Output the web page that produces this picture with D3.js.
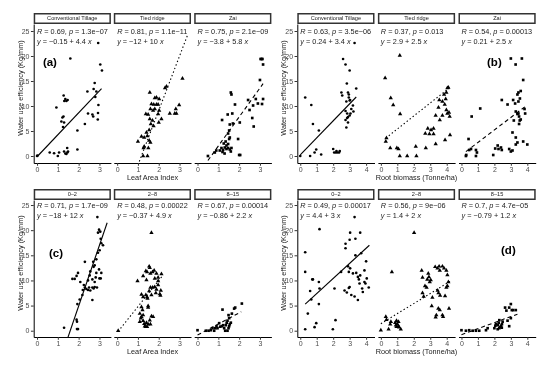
<!DOCTYPE html>
<html>
<head>
<meta charset="utf-8">
<script src="https://cdn.jsdelivr.net/npm/d3@7"></script>
<style>
  body { margin: 0; background: #fff; }
  svg { will-change: transform; }
  text { font-family: "Liberation Sans", Arial, sans-serif; }
</style>
</head>
<body>
<svg id="chart" width="550" height="365"></svg>
<script>
// strip labels
const tillageLabels = ["Conventional Tillage", "Tied ridge", "Zai"];
const depthLabels = ["0\u20132", "2\u20138", "8\u201315"];

const laiTicks = [0, 1, 2, 3];
const rootTicks = [0, 1, 2, 3, 4];
const wueTicks = [0, 5, 10, 15, 20, 25];

// (a) leaf area index vs WUE, by tillage
const laiTillage = [[0,0],[0.02,0.1],[0.61,0.7],[0.82,0.55],[1.0,0],[1.06,0.7],[1.3,0.9],[1.36,0.5],[1.41,0.4],[1.46,0.7],[1.49,0.9],[1.45,1.6],[1.94,1.3],[0.93,9.7],[1.28,12.1],[1.36,11.4],[1.31,11.0],[1.41,11.0],[1.47,11.2],[1.22,7.7],[1.17,6.9],[1.3,6.7],[1.27,7.9],[1.25,5.8],[1.6,19.5],[1.94,5.1],[2.3,6.4],[2.45,8.5],[2.66,8.3],[2.7,7.9],[2.42,12.9],[2.72,13.4],[2.77,14.6],[2.8,11.8],[2.95,10.2],[2.93,8.6],[2.92,7.3],[2.94,22.6],[3.04,18.3],[3.12,17.1],[2.85,12.9]];
const laiTiedRidge = [[1.25,0],[1.46,0],[1.0,2.9],[1.27,1.6],[1.3,1.9],[1.5,1.6],[1.17,3.9],[1.3,3.7],[1.54,3.1],[1.6,2.7],[1.41,4.7],[1.54,5.2],[1.62,6.4],[1.57,7.4],[1.7,7.1],[1.38,8.4],[1.49,8.3],[1.6,9.4],[1.73,9.1],[1.81,9.4],[1.97,8.4],[2.02,9.1],[1.57,12.7],[1.65,10.4],[1.76,10.3],[1.89,10.3],[1.97,10.3],[1.81,11.6],[1.89,11.7],[2.02,11.4],[2.13,7.4],[2.0,6.7],[2.3,13.6],[2.37,13.9],[2.53,8.5],[2.77,8.5],[2.85,8.5],[2.82,9.4],[2.98,10.2],[3.14,15.5],[1.45,4.0],[1.75,6.0]];
const laiZai = [[0.5,0],[0.83,0.7],[0.9,1.1],[1.07,1.1],[1.15,1.6],[1.23,1.2],[1.31,1.7],[1.39,1.4],[1.47,1.6],[1.55,1.3],[1.63,1.6],[1.26,2.5],[1.35,2.9],[1.39,2.1],[1.47,2.4],[1.52,3.4],[1.55,3.7],[1.47,4.5],[1.52,5.1],[1.18,7.2],[1.55,6.3],[1.7,6.5],[1.67,8.5],[1.45,8.3],[1.6,12.7],[1.63,12.3],[1.8,10.3],[1.95,3.4],[2.0,0.2],[2.05,0.2],[2.03,6.7],[2.43,11.2],[2.67,10.1],[2.5,9.2],[2.63,7.6],[2.7,5.9],[2.8,11.4],[2.9,10.5],[3.15,11.4],[3.1,10.4],[3.0,15.2],[3.03,19.4],[3.08,19.4],[3.12,19.4],[3.15,18.3],[1.2,0.8],[1.3,0.5],[1.6,0.9]];

// (b) root biomass vs WUE, by tillage
const rootTillage = [[0,0],[0.3,11.7],[0.6,0],[0.67,10.2],[0.77,6.4],[0.87,0.7],[0.97,1.3],[1.13,5.1],[1.27,0.3],[2.0,1.4],[2.06,0.7],[2.16,0.7],[2.2,1.0],[2.26,0.7],[2.36,0.7],[2.4,1.0],[2.5,12.7],[2.55,12.1],[2.6,19.4],[2.75,18.3],[3.0,17.1],[2.83,14.5],[2.9,12.7],[2.95,12.3],[3.03,11.2],[2.8,10.9],[2.75,9.0],[2.85,8.5],[2.9,7.8],[3.0,8.1],[3.05,8.5],[3.1,9.4],[2.75,7.2],[2.9,6.7],[2.8,5.7],[3.0,11.1],[3.3,22.6],[3.4,13.5],[3.2,10.1],[3.23,8.9],[2.95,11.7],[2.85,7.6]];
const rootTiedRidge = [[0.26,15.6],[0.34,3.6],[0.3,2.9],[0.57,1.6],[0.6,11.6],[0.75,10.2],[0.97,1.6],[1.07,1.4],[1.15,20.1],[1.17,8.4],[1.15,0],[1.6,0],[2.16,0],[2.12,1.9],[2.73,1.6],[2.7,4.5],[2.95,4.4],[2.85,5.5],[3.05,5.2],[3.2,5.5],[3.2,4.4],[3.33,2.4],[3.9,3.2],[4.2,4.2],[3.33,8.1],[3.58,7.2],[3.74,8.1],[3.5,9.7],[3.55,11.2],[3.74,10.9],[3.94,11.4],[3.84,12.3],[3.98,12.7],[4.04,13.6],[4.1,13.7],[3.88,10.3],[3.98,9.2],[4.04,8.5],[4.14,8.7],[4.18,7.9]];
const rootZai = [[0.27,0],[0.29,0.2],[0.47,1.2],[0.58,1.4],[0.43,3.4],[0.62,7.9],[0.88,1.2],[0.94,0.7],[0.88,0],[1.14,9.5],[1.93,0.2],[2.05,1.5],[2.2,2.1],[2.4,1.7],[2.45,1.2],[2.25,1.4],[2.45,11.2],[2.8,10.3],[2.9,1.4],[3.0,0.9],[3.1,1.1],[3.0,19.5],[3.29,18.3],[3.1,4.7],[3.14,11.2],[3.26,10.5],[3.4,12.3],[3.46,12.7],[3.46,10.9],[3.3,8.9],[3.4,8.4],[3.5,7.9],[3.54,7.1],[3.5,6.4],[3.46,8.5],[3.6,7.3],[3.18,7.1],[3.3,2.3],[3.4,2.7],[3.3,3.7],[3.67,19.5],[3.75,15.2],[3.83,9.4],[3.87,8.5],[3.75,2.9],[4.0,2.3],[3.6,13.0],[3.55,11.5]];

// (c) leaf area index vs WUE, by depth
const laiDepth02 = [[1.3,0.6],[1.92,0.33],[1.97,0.33],[1.9,2.2],[1.92,1.8],[1.94,5.3],[2.05,6.2],[2.18,7.1],[2.2,8.1],[2.3,8.6],[2.25,9.1],[1.7,10.3],[1.81,10.3],[1.9,10.9],[1.97,11.5],[2.08,9.7],[2.3,13.7],[2.37,8.3],[2.45,8.1],[2.5,8.6],[2.56,8.0],[2.66,8.6],[2.72,8.4],[2.77,8.7],[2.88,8.6],[2.66,6.1],[2.45,10.0],[2.53,11.0],[2.56,11.8],[2.66,10.2],[2.77,9.7],[2.82,10.6],[2.85,11.5],[2.72,12.7],[2.77,13.0],[2.7,13.7],[2.85,14.2],[2.98,12.2],[3.0,10.4],[3.06,10.4],[3.09,11.5],[2.93,15.5],[3.01,16.0],[3.09,17.4],[3.06,18.3],[2.93,19.5],[2.98,20.1],[3.04,19.7],[2.9,22.6],[3.17,17.0]];
const laiDepth28 = [[0.05,0],[0.98,9.9],[1.09,3.4],[1.14,2.5],[1.09,1.8],[1.17,4.7],[1.22,4.1],[1.25,3.1],[1.17,2.8],[1.25,2.0],[1.3,1.4],[1.33,0.9],[1.38,0.8],[1.41,1.6],[1.44,0.8],[1.49,1.3],[1.57,2.1],[1.6,1.3],[1.65,2.9],[1.73,2.8],[1.46,6.4],[1.49,4.6],[1.49,4.9],[1.17,7.2],[1.25,6.7],[1.38,7.1],[1.44,6.7],[1.54,7.9],[1.65,7.1],[1.6,8.6],[1.7,8.6],[1.81,8.7],[1.89,8.2],[1.97,9.1],[1.86,7.5],[2.05,7.3],[2.08,7.0],[2.1,8.0],[1.38,11.9],[1.44,11.7],[1.54,12.8],[1.57,12.5],[1.6,11.4],[1.7,11.7],[1.78,12.0],[1.89,11.4],[1.97,10.6],[2.13,11.3],[1.65,19.5],[1.25,10.9],[1.41,10.1],[1.81,10.4],[1.97,9.9]];
const laiDepth815 = [[0,0.1],[0.4,0],[0.53,0],[0.64,0.1],[0.72,0.5],[0.8,0],[0.85,0.5],[0.91,0.9],[0.96,0.5],[1.04,1.5],[1.09,0.8],[1.17,0.9],[1.23,1.1],[1.28,0.5],[1.33,0],[1.36,1.1],[1.44,0],[1.49,0.5],[1.52,0.9],[1.55,1.3],[1.6,1.6],[1.44,2.0],[1.52,2.5],[1.49,3.1],[1.2,4.2],[1.76,4.4],[1.81,4.6],[2.13,5.4],[1.65,3.4],[1.4,1.6]];

// (d) root biomass vs WUE, by depth
const rootDepth02 = [[0.3,15.6],[0.3,11.7],[0.3,0.3],[0.46,3.4],[0.6,7.9],[0.73,10.2],[0.77,10.2],[0.67,6.2],[0.87,0.7],[0.97,1.5],[1.13,9.7],[1.17,8.4],[1.13,5.3],[1.17,20.2],[1.98,0.3],[2.14,2.1],[2.08,8.4],[2.48,11.7],[2.69,8.0],[2.83,7.6],[2.95,8.5],[3.0,8.7],[3.1,7.1],[2.75,16.4],[3.0,18.1],[3.03,19.5],[2.75,17.3],[2.9,12.8],[2.95,11.7],[3.03,12.4],[3.3,22.6],[3.35,18.3],[3.35,15.0],[3.4,11.5],[3.5,10.7],[3.56,10.2],[3.6,9.4],[3.64,11.0],[3.64,19.5],[3.3,6.8],[3.5,6.1],[3.7,15.4],[3.76,8.4],[3.8,7.7],[3.9,9.7],[3.9,12.0],[3.96,9.4],[4.04,10.4],[4.16,8.6],[3.2,11.4],[4.0,13.8]];
const rootDepth28 = [[0,0.1],[0.3,2.8],[0.34,2.2],[0.57,1.3],[0.61,1.8],[0.47,0.3],[0.67,11.7],[0.87,1.6],[0.91,1.1],[0.95,0.8],[1.01,1.3],[1.07,1.8],[1.07,0.9],[1.11,0.7],[1.21,0.3],[0.95,2.0],[2.02,19.5],[2.48,12.0],[2.53,10.6],[2.53,7.5],[2.6,6.8],[2.68,8.9],[2.78,8.6],[2.88,11.4],[2.92,10.7],[2.97,9.7],[2.82,10.2],[3.03,10.1],[3.13,6.6],[3.09,4.9],[3.3,12.7],[3.44,12.4],[3.54,12.8],[3.58,12.0],[3.74,12.8],[3.84,12.4],[3.98,12.0],[4.04,11.1],[3.33,2.7],[3.37,3.1],[3.49,4.4],[3.58,4.1],[3.74,3.1],[3.78,2.8],[3.9,6.9],[3.98,8.6],[4.04,8.9],[4.1,9.7],[4.14,4.4],[3.5,7.5],[3.6,7.0],[3.45,8.0]];
const rootDepth815 = [[0,0.1],[0.27,0],[0.47,0.1],[0.68,0],[0.88,0],[1.08,0],[1.49,0.1],[1.59,0.5],[2.0,0.5],[2.06,1.0],[2.1,1.3],[2.2,1.1],[2.26,1.6],[2.3,2.1],[2.34,0.7],[2.4,1.0],[2.46,1.3],[2.5,1.8],[2.2,0.3],[2.3,0.5],[2.65,4.6],[2.73,4.0],[2.9,4.6],[3.0,5.3],[3.06,4.1],[3.14,4.1],[3.3,4.1],[2.8,2.0],[2.9,0.9],[3.0,2.5],[2.45,0.6]];

// stat labels: [R, p, intercept, slope]
const laiTillageStats = [["0.69","1.3e\u221207","\u22120.15","4.4"],["0.81","1.1e\u221211","\u221212","10"],["0.75","2.1e\u221209","\u22123.8","5.8"]];
const rootTillageStats = [["0.63","3.5e\u221206","0.24","3.4"],["0.37","0.013","2.9","2.5"],["0.54","0.00013","0.21","2.5"]];
const laiDepthStats = [["0.71","1.7e\u221209","\u221218","12"],["0.48","0.00022","\u22120.37","4.9"],["0.67","0.00014","\u22120.86","2.2"]];
const rootDepthStats = [["0.49","0.00017","4.4","3"],["0.56","9e\u221206","1.4","2"],["0.7","4.7e\u221205","\u22120.79","1.2"]];

// fitted lines as drawn: [xFrom, xTo, intercept, slope]
const laiTillageFits = [[0,3.1,-0.15,4.4],[1.0,3.4,-12.7,10.9],[0.5,3.15,-3.8,5.8]];
const rootTillageFits = [[0,3.4,0.24,3.4],[0.3,4.2,2.8,2.6],[0.27,3.95,0.21,2.5]];
const laiDepthFits = [[1.3,3.37,-19.3,12.1],[0.05,2.2,-0.4,5.2],[0,2.1,-0.86,2.2]];
const rootDepthFits = [[0.3,4.2,4.4,3.0],[0,4.2,1.4,2.0],[0,3.4,-0.79,1.2]];

const tagLabels = ["(a)", "(b)", "(c)", "(d)"];
// [panel, x, y] in data units
const tagSpots = [[0,0.62,18.8],[2,2.0,18.8],[0,0.91,15.5],[2,2.85,16]];

const svg = d3.select("#chart");
const panelW = 77.2;
const rows = [
    { stripTop: 13, top: 24, bottom: 163, yDomain: [-1.4, 26.4] },
    { stripTop: 189, top: 200, bottom: 337, yDomain: [-1.25, 26.0] }
];
const groups = [
    { lefts: [33.7, 113.8, 194.2], xDomain: [-0.16, 3.55], ticks: laiTicks, title: "Leaf Area Index" },
    { lefts: [297.3, 377.9, 458.5], xDomain: [-0.18, 4.51], ticks: rootTicks, title: "Root biomass (Tonne/ha)" }
];

const facets = [
    { row: 0, group: 0, labels: tillageLabels, sets: [laiTillage, laiTiedRidge, laiZai], stats: laiTillageStats, fits: laiTillageFits },
    { row: 0, group: 1, labels: tillageLabels, sets: [rootTillage, rootTiedRidge, rootZai], stats: rootTillageStats, fits: rootTillageFits },
    { row: 1, group: 0, labels: depthLabels, sets: [laiDepth02, laiDepth28, laiDepth815], stats: laiDepthStats, fits: laiDepthFits },
    { row: 1, group: 1, labels: depthLabels, sets: [rootDepth02, rootDepth28, rootDepth815], stats: rootDepthStats, fits: rootDepthFits }
];

const shapes = [d3.symbolCircle, d3.symbolTriangle, d3.symbolSquare];
const shapeSizes = [5.5, 8, 7];
const dashes = [null, "1.4,2.4", "4,3"];
const fmt = d3.format("d");

facets.forEach((f, fi) => {
    const row = rows[f.row];
    const grp = groups[f.group];
    const y = d3.scaleLinear().domain(row.yDomain).range([row.bottom, row.top]);

    grp.lefts.forEach((left, i) => {
        const x = d3.scaleLinear().domain(grp.xDomain).range([left, left + panelW]);
        const g = svg.append("g");
        const clipId = `clip-${fi}-${i}`;
        svg.append("clipPath").attr("id", clipId)
            .append("rect")
            .attr("x", left).attr("y", row.top)
            .attr("width", panelW).attr("height", row.bottom - row.top);

        // strip
        g.append("rect")
            .attr("x", left + 0.75).attr("y", row.stripTop + 0.75)
            .attr("width", panelW - 1.5).attr("height", row.top - row.stripTop - 1.5)
            .attr("fill", "#fff").attr("stroke", "#333").attr("stroke-width", 1.5);
        g.append("text")
            .attr("x", left + panelW / 2).attr("y", (row.stripTop + row.top) / 2)
            .attr("dy", "0.35em").attr("text-anchor", "middle")
            .attr("font-size", 5.6).attr("fill", "#1a1a1a")
            .text(f.labels[i]);

        // x axis
        const xa = g.append("g")
            .attr("transform", `translate(0,${row.bottom})`)
            .call(d3.axisBottom(x).tickValues(grp.ticks).tickFormat(fmt)
                .tickSize(2.75).tickSizeOuter(0).tickPadding(1.5));
        xa.select(".domain").attr("stroke", "#000").attr("stroke-width", 1);
        xa.selectAll(".tick line").attr("stroke", "#333");
        xa.selectAll(".tick text").attr("font-size", 7).attr("fill", "#4d4d4d")
            .attr("font-family", "Liberation Sans, Arial, sans-serif");

        if (i === 0) {
            const ya = g.append("g")
                .attr("transform", `translate(${left},0)`)
                .call(d3.axisLeft(y).tickValues(wueTicks).tickFormat(fmt)
                    .tickSize(2.75).tickSizeOuter(0).tickPadding(1.5));
            ya.select(".domain").attr("stroke", "#000").attr("stroke-width", 1);
            ya.selectAll(".tick line").attr("stroke", "#333");
            ya.selectAll(".tick text").attr("font-size", 7).attr("fill", "#4d4d4d")
                .attr("font-family", "Liberation Sans, Arial, sans-serif");
        }

        // fitted line
        const fit = f.fits[i];
        const lineData = [fit[0], fit[1]].map(v => [v, fit[2] + fit[3] * v]);
        g.append("path")
            .attr("clip-path", `url(#${clipId})`)
            .attr("d", d3.line().x(d => x(d[0])).y(d => y(d[1]))(lineData))
            .attr("fill", "none").attr("stroke", "#000").attr("stroke-width", 1.1)
            .attr("stroke-dasharray", dashes[i]);

        // points
        g.append("g").selectAll("path")
            .data(f.sets[i])
            .enter().append("path")
            .attr("transform", d => `translate(${x(d[0])},${y(d[1])})`)
            .attr("d", d3.symbol().type(shapes[i]).size(shapeSizes[i]))
            .attr("fill", "#000");

        // stat labels
        const s = f.stats[i];
        const t1 = g.append("text")
            .attr("x", x(0)).attr("y", y(25)).attr("dy", "0.35em")
            .attr("font-size", 7.3).attr("fill", "#222");
        t1.append("tspan").attr("font-style", "italic").text("R");
        t1.append("tspan").text(` = ${s[0]}, `);
        t1.append("tspan").attr("font-style", "italic").text("p");
        t1.append("tspan").text(` = ${s[1]}`);
        const t2 = g.append("text")
            .attr("x", x(0)).attr("y", y(23)).attr("dy", "0.35em")
            .attr("font-size", 7.3).attr("fill", "#222");
        t2.append("tspan").attr("font-style", "italic").text("y");
        t2.append("tspan").text(` = ${s[2]} + ${s[3]} `);
        t2.append("tspan").attr("font-style", "italic").text("x");

        // panel tag
        const tag = tagSpots[fi];
        if (tag[0] === i) {
            g.append("text")
                .attr("x", x(tag[1])).attr("y", y(tag[2])).attr("dy", "0.35em")
                .attr("text-anchor", "middle")
                .attr("font-size", 11.5).attr("font-weight", "bold").attr("fill", "#000")
                .text(tagLabels[fi]);
        }
    });

    // axis titles
    const left0 = grp.lefts[0];
    const right = grp.lefts[2] + panelW;
    svg.append("text")
        .attr("x", (left0 + right) / 2).attr("y", row.bottom + 14).attr("dy", "0.35em")
        .attr("text-anchor", "middle").attr("font-size", 7.3).attr("fill", "#1a1a1a")
        .text(grp.title);
    const cy = (row.stripTop + row.bottom) / 2;
    svg.append("text")
        .attr("transform", `translate(${left0 - 13.5},${cy}) rotate(-90)`)
        .attr("text-anchor", "middle").attr("dy", "0.35em")
        .attr("font-size", 7.3).attr("fill", "#1a1a1a")
        .text("Water use efficiency (Kg/mm)");
});
</script>
</body>
</html>
